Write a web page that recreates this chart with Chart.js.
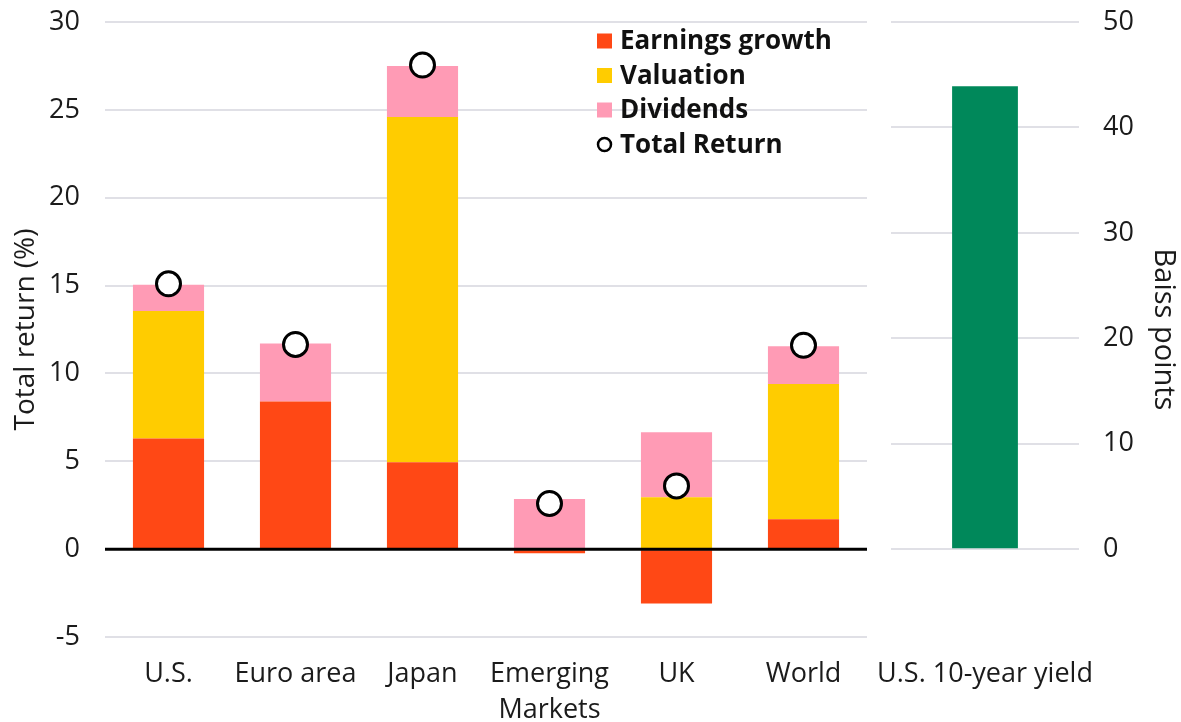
<!DOCTYPE html>
<html>
<head>
<meta charset="utf-8">
<script src="https://cdn.jsdelivr.net/npm/chart.js@4.4.0/dist/chart.umd.min.js"></script>
<style>
  html, body { margin: 0; padding: 0; background: #fff; }
  #wrap { position: relative; width: 1181px; height: 722px; }
  #leftBox { position: absolute; left: 0; top: 0; width: 882px; height: 722px; }
  #rightBox { position: absolute; left: 860px; top: 0; width: 321px; height: 722px; }
</style>
</head>
<body>
<div id="wrap">
  <div id="leftBox"><canvas id="returnsChart"></canvas></div>
  <div id="rightBox"><canvas id="yieldChart"></canvas></div>
</div>
<script>
// data
var regions = ['U.S.', 'Euro area', 'Japan', ['Emerging', 'Markets'], 'UK', 'World'];
var earningsGrowth = [6.3, 8.4, 4.95, -0.23, -3.1, 1.7];
var valuation = [7.25, 0, 19.65, 0, 2.95, 7.7];
var dividends = [1.5, 3.3, 2.9, 2.85, 3.7, 2.15];
var totalReturn = [15.1, 11.65, 27.55, 2.6, 3.6, 11.6];

var yieldLabels = ['U.S. 10-year yield'];
var yieldChange = [43.9];

var leftTicks = { min: -5, max: 30, step: 5 };
var rightTicks = { min: 0, max: 50, step: 10 };

var FONT = "'Open Sans', sans-serif";
var TEXT = '#1b1b1b';
var GRID = '#e0e0e6';

Chart.defaults.font.family = FONT;
Chart.defaults.color = TEXT;
Chart.defaults.animation = false;

// keep label overflow from pushing the plot area around; layout padding does that job
function noScalePadding(s) {
  s.paddingTop = 0;
  s.paddingBottom = 0;
  s.paddingLeft = 0;
  s.paddingRight = 0;
}

// black zero line drawn over the bars
var zeroLine = {
  id: 'zeroLine',
  afterDatasetsDraw: function (chart) {
    var y = chart.scales.y.getPixelForValue(0);
    var ctx = chart.ctx;
    ctx.save();
    ctx.strokeStyle = '#000';
    ctx.lineWidth = 3;
    ctx.beginPath();
    ctx.moveTo(chart.chartArea.left, y);
    ctx.lineTo(chart.chartArea.right, y);
    ctx.stroke();
    ctx.restore();
  }
};

// legend inside the plot, top right
var boxLegend = {
  id: 'boxLegend',
  afterDraw: function (chart) {
    var ctx = chart.ctx;
    var x = chart.chartArea.left + 492;
    var y = chart.chartArea.top + 19;
    ctx.save();
    ctx.font = 'bold 26px ' + FONT;
    ctx.textBaseline = 'middle';
    chart.data.datasets.forEach(function (ds, i) {
      var cy = y + i * 34.5;
      if (ds.type === 'line') {
        ctx.beginPath();
        ctx.arc(x + 7.5, cy, 6.5, 0, Math.PI * 2);
        ctx.fillStyle = '#fff';
        ctx.fill();
        ctx.lineWidth = 2.5;
        ctx.strokeStyle = '#000';
        ctx.stroke();
      } else {
        ctx.fillStyle = ds.backgroundColor;
        ctx.fillRect(x, cy - 7.5, 15, 15);
      }
      ctx.fillStyle = '#111';
      ctx.fillText(ds.label, x + 23, cy + 1);
    });
    ctx.restore();
  }
};

new Chart(document.getElementById('returnsChart'), {
  type: 'bar',
  data: {
    labels: regions,
    datasets: [
      { label: 'Earnings growth', data: earningsGrowth, backgroundColor: '#ff4815', stack: 's', order: 1 },
      { label: 'Valuation', data: valuation, backgroundColor: '#ffcc00', stack: 's', order: 1 },
      { label: 'Dividends', data: dividends, backgroundColor: '#ff9bb5', stack: 's', order: 1 },
      {
        type: 'line', label: 'Total Return', data: totalReturn, stack: 'total', order: 0,
        showLine: false, pointRadius: 12, pointBorderWidth: 3,
        pointBackgroundColor: '#fff', pointBorderColor: '#000', borderColor: '#000'
      }
    ]
  },
  options: {
    responsive: true,
    maintainAspectRatio: false,
    layout: { padding: { top: 22, right: 3, bottom: 0, left: 0 } },
    categoryPercentage: 1,
    barPercentage: 0.56,
    plugins: { legend: { display: false }, tooltip: { enabled: false } },
    scales: {
      x: {
        stacked: true,
        grid: { display: false, drawTicks: false },
        border: { display: false },
        ticks: { padding: 19, maxRotation: 0, autoSkip: false, font: { size: 27, lineHeight: 1.35 }, color: TEXT },
        afterFit: function (s) { s.height = 85; noScalePadding(s); }
      },
      y: {
        stacked: true,
        min: leftTicks.min,
        max: leftTicks.max,
        grid: { color: GRID, lineWidth: 2, drawTicks: false },
        border: { display: false },
        ticks: { stepSize: leftTicks.step, padding: 25, font: { size: 27 }, color: TEXT },
        title: { display: true, text: 'Total return (%)', font: { size: 28 }, color: TEXT, padding: { top: 9, bottom: 0 } },
        afterFit: function (s) { s.width = 105; noScalePadding(s); }
      }
    }
  },
  plugins: [zeroLine, boxLegend]
});

// right panel: yield change in basis points, scaled to line up with the left panel
var pxPerUnitRatio = (rightTicks.max - rightTicks.min) / leftTicks.max;
var rightMin = leftTicks.min * pxPerUnitRatio;

new Chart(document.getElementById('yieldChart'), {
  type: 'bar',
  data: {
    labels: yieldLabels,
    datasets: [{ label: 'U.S. 10-year yield', data: yieldChange, backgroundColor: '#00885a' }]
  },
  options: {
    responsive: true,
    maintainAspectRatio: false,
    layout: { padding: { top: 22, right: 0, bottom: 0, left: 31 } },
    categoryPercentage: 1,
    barPercentage: 0.35,
    plugins: { legend: { display: false }, tooltip: { enabled: false } },
    scales: {
      x: {
        grid: { display: false, drawTicks: false },
        border: { display: false },
        ticks: { padding: 19, maxRotation: 0, font: { size: 27, lineHeight: 1.35 }, color: TEXT },
        afterFit: function (s) { s.height = 85; noScalePadding(s); }
      },
      y: {
        position: 'right',
        min: rightMin,
        max: rightTicks.max,
        grid: { color: GRID, lineWidth: 2, drawTicks: false },
        border: { display: false },
        ticks: { stepSize: rightTicks.step, includeBounds: false, padding: 24, font: { size: 27 }, color: TEXT },
        title: { display: true, text: 'Baiss points', font: { size: 29 }, color: TEXT, padding: { top: 0, bottom: 2 } },
        afterFit: function (s) { s.width = 102; noScalePadding(s); }
      }
    }
  }
});
</script>
</body>
</html>
